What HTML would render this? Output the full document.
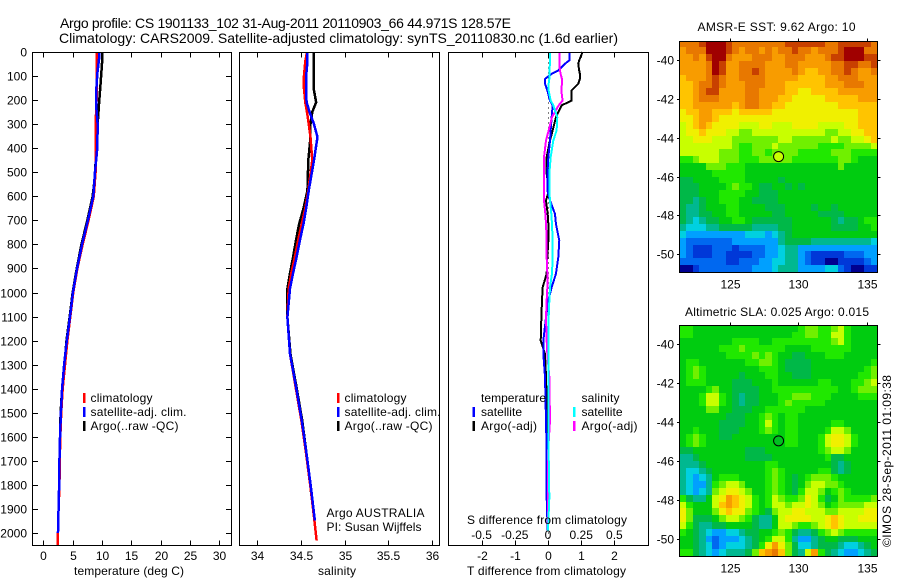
<!DOCTYPE html>
<html lang="en">
<head>
<meta charset="utf-8">
<title>Argo profile chart</title>
<style>
html,body{margin:0;padding:0;background:#fff;width:900px;height:580px;overflow:hidden}
svg{display:block}
text{font-family:"Liberation Sans",Arial,sans-serif;font-size:12px;fill:#000}
</style>
</head>
<body>
<svg id="chart" xmlns="http://www.w3.org/2000/svg" width="900" height="580" viewBox="0 0 900 580">
  <rect x="0" y="0" width="900" height="580" fill="#fff"/>
  <g id="panels"></g>
  <g id="maps"></g>
  <text x="60" y="28" style="font-size:14px" textLength="451" lengthAdjust="spacing">Argo profile: CS 1901133_102 31-Aug-2011 20110903_66 44.971S 128.57E</text>
  <text x="59" y="43" style="font-size:14px" textLength="559" lengthAdjust="spacing">Climatology: CARS2009. Satellite-adjusted climatology: synTS_20110830.nc (1.6d earlier)</text>

  <text x="74" y="575" textLength="110" lengthAdjust="spacing">temperature (deg C)</text>
  <text x="318" y="575" textLength="38" lengthAdjust="spacing">salinity</text>
  <text x="467" y="524" textLength="160" lengthAdjust="spacing">S difference from climatology</text>
  <text x="467" y="575" textLength="159" lengthAdjust="spacing">T difference from climatology</text>

  <g>
    <rect x="83" y="393" width="2.5" height="10" fill="#f00"/>
    <rect x="83" y="407" width="2.5" height="10" fill="#00f"/>
    <rect x="83" y="421" width="2.5" height="10" fill="#000"/>
    <text x="90.5" y="402" textLength="62" lengthAdjust="spacing">climatology</text>
    <text x="90.5" y="416" textLength="96" lengthAdjust="spacing">satellite-adj. clim.</text>
    <text x="90.5" y="430" textLength="88" lengthAdjust="spacing">Argo(..raw -QC)</text>
  </g>
  <g>
    <rect x="337" y="393" width="2.5" height="10" fill="#f00"/>
    <rect x="337" y="407" width="2.5" height="10" fill="#00f"/>
    <rect x="337" y="421" width="2.5" height="10" fill="#000"/>
    <text x="344.5" y="402" textLength="62" lengthAdjust="spacing">climatology</text>
    <text x="344.5" y="416" textLength="96" lengthAdjust="spacing">satellite-adj. clim.</text>
    <text x="344.5" y="430" textLength="88" lengthAdjust="spacing">Argo(..raw -QC)</text>
    <text x="326.5" y="517" textLength="98" lengthAdjust="spacing">Argo AUSTRALIA</text>
    <text x="326.5" y="531" textLength="95" lengthAdjust="spacing">PI: Susan Wijffels</text>
  </g>
  <g>
    <rect x="472.5" y="407" width="2.5" height="10" fill="#00f"/>
    <rect x="472.5" y="421" width="2.5" height="10" fill="#000"/>
    <rect x="573" y="407" width="2.5" height="10" fill="#0ff"/>
    <rect x="573" y="421" width="2.5" height="10" fill="#f0f"/>
    <text x="481" y="402" textLength="65" lengthAdjust="spacing">temperature</text>
    <text x="481" y="416" textLength="41" lengthAdjust="spacing">satellite</text>
    <text x="481" y="430" textLength="56" lengthAdjust="spacing">Argo(-adj)</text>
    <text x="581.5" y="402" textLength="38" lengthAdjust="spacing">salinity</text>
    <text x="581.5" y="416" textLength="41" lengthAdjust="spacing">satellite</text>
    <text x="581.5" y="430" textLength="56" lengthAdjust="spacing">Argo(-adj)</text>
  </g>

  <text x="697.5" y="31" textLength="158" lengthAdjust="spacing">AMSR-E SST: 9.62 Argo: 10</text>
  <text x="685" y="316" textLength="184" lengthAdjust="spacing">Altimetric SLA: 0.025 Argo: 0.015</text>
  <text x="891" y="547" transform="rotate(-90 891 547)" textLength="172" lengthAdjust="spacing">©IMOS 28-Sep-2011 01:09:38</text>
</svg>
<script>
// ---- tick labels ----
const depthTicks = [0,100,200,300,400,500,600,700,800,900,1000,1100,1200,1300,1400,1500,1600,1700,1800,1900,2000];
const tempTicks = [0,5,10,15,20,25,30];
const salTicks = [34,34.5,35,35.5,36];
const diffTTicks = [-2,-1,0,1,2];
const diffSTicks = [-0.5,-0.25,0,0.25,0.5];
const lonTicks = [125,130,135];
const latTicks = [-40,-42,-44,-46,-48,-50];

// ---- temperature profile (deg C) ----
const tempDepths = [0,30,90,150,215,300,400,500,600,700,800,900,1000,1100,1200,1300,1400,1500,1600,1700,1800,1900,2000,2055];
const tempClim = [9.09,9.09,9.09,9.15,9.05,8.92,8.92,8.9,8.6,7.7,6.7,5.8,5.1,4.6,4.1,3.7,3.3,3.05,2.9,2.8,2.75,2.6,2.5,2.5];
const tempSat = [9.49,9.49,9.2,9.05,8.98,9.26,9.2,8.8,8.52,7.6,6.6,5.75,5.05,4.55,4.0,3.55,3.2,3.0,2.85,2.75,2.7,2.6,2.5];
const tempArgo = [10.05,10.05,9.88,9.7,9.49,9.26,8.92,8.88,8.41,7.5,6.5,5.7,5.0,4.5,3.95,3.6,3.2,2.95,2.85,2.8,2.75,2.6,2.5];

// ---- salinity profile ----
const salDepths = [0,40,100,150,209,250,300,354,450,576,650,714,780,853,920,984,1103,1255,1394,1532,1671,1810,1948,2031];
const salClim = [34.57,34.55,34.535,34.535,34.55,34.57,34.59,34.61,34.63,34.585,34.55,34.51,34.47,34.43,34.39,34.36,34.345,34.375,34.44,34.505,34.56,34.61,34.655,34.68];
const salSat = [34.575,34.575,34.56,34.56,34.565,34.60,34.65,34.69,34.65,34.59,34.56,34.53,34.49,34.45,34.41,34.375,34.345,34.375,34.445,34.51,34.565,34.615,34.66];
const salArgo = [34.65,34.65,34.645,34.645,34.675,34.63,34.61,34.61,34.585,34.575,34.53,34.48,34.445,34.41,34.375,34.345,34.345,34.38,34.45,34.515,34.565,34.61,34.655];

// ---- differences from climatology ----
const diffDepths = [0,35,49,77,91,112,132,160,202,222,271,326,368,437,507,576,617,673,715,784,853,922,978,1033,1103,1200,1255,1352,1532,1671,1852,1990];
const diffTArgo = [1.04,0.94,0.91,0.94,0.96,0.96,0.91,0.71,0.71,0.41,0.24,0.14,0.06,-0.04,-0.04,0.03,-0.06,-0.01,0.01,0.01,-0.02,-0.04,-0.16,-0.18,-0.20,-0.22,-0.09,-0.06,-0.02,-0.02,-0.01,-0.01];
const diffTSat = [0.64,0.64,0.51,0.31,0.11,-0.09,-0.09,-0.02,0.06,0.14,0.11,0.08,0.06,0.01,-0.02,-0.02,0.06,0.21,0.24,0.34,0.31,0.24,0.11,0.01,-0.06,-0.14,-0.14,-0.09,-0.06,-0.04,-0.04,-0.01];
const diffSArgo = [0.085,0.085,0.085,0.09,0.095,0.105,0.105,0.1,0.11,0.08,0.03,0.005,-0.015,-0.03,-0.03,-0.03,-0.03,-0.02,-0.015,-0.01,-0.01,-0.005,-0.005,-0.01,-0.015,-0.01,-0.005,0.01,0.015,0,0,0];
const diffSSat = [0.015,0.015,0.015,0.01,0.01,0.01,0.005,0.005,0.02,0.04,0.07,0.065,0.04,0.02,0.01,0.01,0.015,0.025,0.03,0.035,0.035,0.03,0.015,0.01,0.005,0.005,0.005,0.005,0.005,0.005,0.01,0];

// ---- map colour levels ----
const levelColors = ['#000090','#0038d8','#0068f0','#00a0ff','#00d0e0','#00b890','#00b848','#00cc10','#20e800','#70f000','#c8ff00','#f0f000','#ffc400','#f89c00','#e87800','#c84000','#a00000'];
const sstLevels = [
[14,14,14,15,16,16,16,15,14,14,14,14,14,14,14,14,15,15,15,15,15,15,14,14,15,15,15,15,15,14],
[13,14,14,14,16,16,16,15,14,13,14,14,13,14,13,14,14,15,14,14,13,14,14,14,15,16,16,16,14,14],
[13,13,14,13,15,16,16,14,13,13,13,14,14,14,13,13,14,14,14,13,13,13,14,15,15,16,16,16,15,15],
[13,13,13,13,14,16,15,13,13,14,14,14,14,13,13,13,14,14,13,13,13,13,13,14,14,15,15,14,14,15],
[13,13,13,13,14,16,15,13,13,14,14,15,14,13,13,13,13,14,13,12,12,13,13,14,14,15,14,13,13,14],
[12,13,13,13,14,15,14,13,13,14,14,14,14,13,13,13,13,13,12,12,12,12,13,13,14,14,14,13,13,13],
[12,12,13,14,14,15,14,13,13,13,14,14,14,13,13,13,12,12,12,12,12,12,13,13,13,14,14,14,13,13],
[12,12,13,14,15,15,13,13,13,13,14,14,13,13,13,13,12,12,11,11,12,12,12,12,13,13,13,13,13,13],
[12,12,13,14,14,14,13,13,13,13,14,14,13,13,13,12,12,11,11,11,11,11,12,12,12,12,12,13,13,13],
[12,12,13,13,13,13,13,13,12,13,14,14,13,13,12,12,11,11,11,11,11,11,11,11,12,12,12,12,12,12],
[11,12,12,13,13,12,12,12,11,12,12,12,12,12,11,11,11,11,11,11,11,11,11,11,11,11,11,12,12,12],
[11,11,12,13,13,12,11,11,11,11,11,11,11,11,11,11,11,11,11,11,11,11,11,11,11,11,11,12,12,12],
[10,11,12,13,12,11,11,11,11,10,10,10,11,11,10,10,10,11,11,11,11,10,10,10,10,11,11,12,12,12],
[10,11,11,12,11,11,11,10,10,9,9,10,10,10,10,10,10,10,10,10,10,10,9,9,10,10,11,11,12,12],
[10,10,11,11,11,10,10,10,9,9,9,9,9,9,9,10,10,9,9,9,9,9,9,10,9,9,10,10,11,12],
[10,10,10,10,10,10,10,10,9,8,8,9,9,9,10,9,9,9,9,9,9,8,8,8,8,9,9,9,9,10],
[10,10,10,10,10,10,9,9,9,8,8,9,9,8,9,9,9,9,8,8,8,8,8,9,9,9,8,8,8,8],
[8,8,9,10,10,10,9,9,9,8,8,8,9,9,9,9,9,8,8,8,8,8,8,8,9,9,8,7,7,7],
[7,7,7,7,9,9,9,8,8,8,7,7,7,7,7,7,7,7,7,7,7,7,7,7,9,7,7,7,7,7],
[7,7,7,7,7,8,8,8,8,8,7,7,7,7,7,7,7,7,7,7,7,7,7,7,7,7,7,7,7,7],
[6,6,7,7,7,7,8,8,8,8,7,7,7,7,7,6,7,7,7,7,7,7,7,7,7,7,7,7,7,7],
[6,6,6,7,7,7,7,8,9,8,8,7,6,6,7,7,6,7,6,7,7,7,7,7,7,7,7,7,7,7],
[6,6,6,7,7,7,8,8,8,8,7,7,6,6,6,7,7,7,7,7,7,7,7,7,7,7,7,7,7,7],
[6,6,5,6,7,7,8,8,8,7,7,6,6,6,6,7,7,7,7,7,7,7,7,7,7,7,7,7,7,7],
[6,5,5,6,7,7,7,8,8,7,7,7,7,6,6,6,7,7,7,7,6,7,7,6,7,7,7,7,7,7],
[6,5,5,6,6,7,7,8,8,7,7,7,7,7,6,6,7,7,7,7,7,6,6,6,6,7,7,7,7,7],
[6,5,4,5,6,6,7,7,8,8,7,6,6,6,6,6,6,7,7,7,7,7,7,6,5,6,6,7,8,8],
[5,4,4,4,5,5,6,6,6,6,6,5,5,5,5,6,6,7,7,7,7,7,7,6,6,6,6,7,7,8],
[4,3,3,3,3,3,3,3,3,3,4,4,4,3,4,5,6,7,7,7,7,7,7,7,7,7,7,7,7,7],
[3,2,2,2,2,2,2,2,3,3,3,3,3,3,3,5,6,6,6,6,5,5,5,5,5,5,5,5,5,4],
[3,2,1,1,1,2,2,2,1,2,2,2,2,3,3,4,5,5,3,3,3,3,3,3,3,3,3,3,3,3],
[3,2,1,1,1,2,2,1,1,1,1,2,2,3,3,4,5,5,3,2,1,1,1,1,1,2,2,2,3,3],
[2,2,2,2,2,2,2,1,1,2,2,2,3,3,4,4,5,5,3,2,1,1,0,0,1,1,1,1,2,3],
[0,0,1,2,2,2,2,2,2,2,2,3,3,3,4,5,5,5,3,3,3,3,4,4,2,1,0,0,1,1]
];
const slaLevels = [
[8,8,7,7,7,7,7,7,7,7,7,7,7,7,7,7,7,7,8,9,9,8,8,9,10,8,7,7,7,7],
[8,8,7,7,7,7,7,7,7,7,7,7,7,7,7,7,7,8,8,9,9,8,8,10,10,8,7,7,7,7],
[7,7,7,7,7,7,7,7,8,8,8,8,7,7,8,8,8,8,8,8,8,8,8,9,10,8,7,7,7,7],
[7,7,7,7,7,7,8,8,8,9,8,8,8,8,8,8,7,7,7,7,8,8,8,8,8,8,7,7,7,7],
[7,7,7,7,7,7,7,8,8,8,8,9,8,9,8,7,7,6,6,7,7,7,8,8,8,7,7,7,7,7],
[7,8,8,7,7,7,7,7,7,7,8,8,9,9,8,7,6,6,6,6,7,7,7,7,7,7,7,7,7,8],
[7,8,9,8,7,7,7,7,7,7,7,7,8,8,8,7,6,6,6,6,7,7,7,7,7,7,7,7,8,9],
[7,8,9,8,7,7,7,7,7,6,7,7,7,8,8,7,7,6,6,6,7,7,7,7,7,7,7,8,8,9],
[7,8,8,8,7,7,7,7,6,6,6,7,7,7,8,7,7,7,7,7,7,8,8,7,7,7,8,8,9,10],
[7,7,7,7,8,9,7,7,6,6,6,6,7,7,8,8,8,8,8,8,8,8,8,8,7,7,8,9,9,9],
[7,7,7,8,10,10,8,7,6,5,6,6,7,7,7,8,8,9,9,9,8,8,8,7,7,7,7,8,8,8],
[7,7,7,8,10,10,8,7,6,5,6,6,7,7,7,8,9,8,8,8,8,8,7,7,7,7,7,7,7,7],
[7,7,7,7,9,9,7,7,6,6,6,7,7,8,8,8,8,8,8,7,7,7,7,7,7,7,7,7,7,7],
[7,7,7,7,7,7,7,6,6,6,7,7,8,9,8,7,8,8,7,7,7,7,7,7,7,7,7,7,7,7],
[7,7,7,7,7,7,6,6,6,6,7,7,8,10,8,7,8,8,7,7,7,7,7,8,8,7,7,7,7,7],
[7,7,8,7,7,7,6,6,6,7,7,7,8,9,8,7,8,8,7,7,7,7,8,10,10,9,7,7,7,7],
[7,8,9,8,7,7,6,6,7,7,7,7,7,7,7,7,8,8,7,7,7,8,10,11,11,10,8,7,7,7],
[7,8,9,8,7,7,7,7,7,7,7,7,7,7,7,7,8,8,7,7,7,8,10,11,11,10,8,7,7,7],
[6,6,7,7,7,7,7,7,7,7,6,6,6,7,7,7,7,7,7,7,7,8,9,10,10,9,7,7,7,7],
[5,5,6,7,7,7,7,7,7,7,6,6,6,6,7,7,7,7,7,7,7,7,8,6,6,7,7,7,7,7],
[5,5,5,6,7,7,7,7,7,7,7,7,7,8,8,7,7,7,7,7,7,7,7,6,5,6,7,7,7,7],
[5,4,4,5,6,7,7,7,7,7,7,7,7,8,9,8,7,7,7,7,7,8,8,6,5,6,7,7,7,7],
[5,4,3,4,5,7,8,8,8,7,7,7,7,8,9,8,7,6,7,8,9,9,9,8,7,7,7,7,7,7],
[5,4,3,3,5,8,9,10,10,9,7,7,7,8,9,8,7,6,7,9,10,10,9,9,8,7,7,7,7,7],
[5,4,3,4,5,9,10,11,11,10,9,7,7,8,9,8,7,6,8,10,10,9,7,8,9,8,7,7,7,7],
[8,6,5,5,7,10,11,13,12,11,10,8,7,8,10,9,8,8,9,11,10,8,6,7,9,8,8,8,8,9],
[10,8,7,7,7,10,12,13,12,11,10,8,7,8,10,10,9,10,10,11,10,9,7,8,9,9,9,9,10,10],
[11,9,7,7,7,9,11,12,11,11,9,8,7,6,9,10,10,11,11,10,10,10,9,9,10,10,10,10,11,11],
[11,9,6,6,6,7,9,10,10,9,8,6,5,5,7,10,11,11,11,11,10,10,11,12,11,10,10,11,11,11],
[10,8,6,5,5,6,6,7,7,7,7,6,5,5,7,10,10,9,8,8,9,10,11,12,11,10,10,10,10,10],
[8,7,6,5,4,3,3,4,4,5,6,6,7,7,8,9,8,6,5,5,6,8,9,10,9,8,8,8,8,8],
[7,7,6,5,3,2,3,3,3,4,5,6,7,8,10,10,8,5,3,3,5,6,7,7,6,6,6,7,7,7],
[7,7,6,5,4,2,3,4,4,4,5,6,8,11,13,11,9,6,4,4,5,6,6,6,5,4,4,5,6,7],
[8,8,6,5,4,3,4,5,5,5,6,9,12,13,14,12,9,6,5,10,13,8,6,5,4,3,3,4,5,6]
];
const argoLon = [128.57];
const argoLat = [-44.97];

const NS = 'http://www.w3.org/2000/svg';
const panelsG = document.getElementById('panels');
const mapsG = document.getElementById('maps');

function mk(tag, parent, attrs) {
  const el = document.createElementNS(NS, tag);
  for (const k in attrs) el.setAttribute(k, attrs[k]);
  parent.appendChild(el);
  return el;
}

// ---- axis functions ----
const PANEL_TOP = 52.5, PANEL_BOTTOM = 545.5;
function yDepth(d) { return 52 + d * 0.2405; }
function xTemp(v) { return 43.3 + v * 5.87; }
function xSal(v) { return 257.3 + (v - 34) * 87.2; }
function xDiffT(v) { return 548 + v * 33.2; }
function xDiffS(v) { return 548 + v * 132.8; }
function xLon(v) { return 729.5 + (v - 125) * 13.75; }
function ySst(v) { return 60 + (-40 - v) * 19.43; }
function ySla(v) { return 344.3 + (-40 - v) * 19.43; }

function drawSeries(parent, depths, values, xFn, color, width, name) {
  let pts = '';
  for (let i = 0; i < values.length; i++) {
    pts += xFn(values[i]).toFixed(2) + ',' + yDepth(depths[i]).toFixed(2) + ' ';
  }
  const el = mk('polyline', parent, {points: pts, fill: 'none', stroke: color, 'stroke-width': width, 'shape-rendering': 'crispEdges', 'stroke-linejoin': 'miter'});
  
  
}

function drawFrame(parent, x0, x1, y0, y1, name) {
  const el = mk('rect', parent, {x: x0, y: y0, width: x1 - x0, height: y1 - y0, fill: 'none', stroke: '#000', 'stroke-width': 1, 'shape-rendering': 'crispEdges'});
  
  
}

function tick(parent, x1, y1, x2, y2, name) {
  const el = mk('line', parent, {x1: x1, y1: y1, x2: x2, y2: y2, stroke: '#000', 'stroke-width': 1, 'shape-rendering': 'crispEdges'});
  
  
}

function label(parent, x, y, anchor, str, name) {
  const el = mk('text', parent, {x: x, y: y, 'text-anchor': anchor});
  el.textContent = str;
  
  
}

// ---- panel 1: temperature ----
const p1 = mk('g', panelsG, {});


drawSeries(p1, tempDepths, tempArgo, xTemp, '#000', 2.5, 'temperature-argo-line');
drawSeries(p1, tempDepths, tempClim, xTemp, '#f00', 2.5, 'temperature-climatology-line');
drawSeries(p1, tempDepths, tempSat, xTemp, '#00f', 2.5, 'temperature-satellite-line');
drawFrame(p1, 32.5, 231.5, PANEL_TOP, PANEL_BOTTOM, 'temperature-plot-frame');
depthTicks.forEach(function (d) {
  const y = Math.round(yDepth(d)) + 0.5;
  tick(p1, 32.5, y, 38, y, 'depth-tick-left');
  tick(p1, 226, y, 231.5, y, 'depth-tick-right');
  label(p1, 27, y + 4, 'end', String(d), 'depth-tick-label');
});
tempTicks.forEach(function (v) {
  const x = Math.round(xTemp(v)) + 0.5;
  tick(p1, x, PANEL_TOP, x, PANEL_TOP + 5, 'temperature-tick-top');
  tick(p1, x, PANEL_BOTTOM - 5, x, PANEL_BOTTOM, 'temperature-tick-bottom');
  label(p1, x, 560, 'middle', String(v), 'temperature-tick-label');
});

// ---- panel 2: salinity ----
const p2 = mk('g', panelsG, {});


drawSeries(p2, salDepths, salArgo, xSal, '#000', 2.5, 'salinity-argo-line');
drawSeries(p2, salDepths, salClim, xSal, '#f00', 2.5, 'salinity-climatology-line');
drawSeries(p2, salDepths, salSat, xSal, '#00f', 2.5, 'salinity-satellite-line');
drawFrame(p2, 239.5, 439.5, PANEL_TOP, PANEL_BOTTOM, 'salinity-plot-frame');
salTicks.forEach(function (v) {
  const x = Math.round(xSal(v)) + 0.5;
  tick(p2, x, PANEL_TOP, x, PANEL_TOP + 5, 'salinity-tick-top');
  tick(p2, x, PANEL_BOTTOM - 5, x, PANEL_BOTTOM, 'salinity-tick-bottom');
  label(p2, x, 560, 'middle', String(v), 'salinity-tick-label');
});

// ---- panel 3: differences ----
const p3 = mk('g', panelsG, {});


const zeroLine = mk('line', p3, {x1: xDiffT(0) + 0.5, y1: PANEL_TOP, x2: xDiffT(0) + 0.5, y2: PANEL_BOTTOM, stroke: '#000', 'stroke-width': 1, 'stroke-dasharray': '1 4', 'shape-rendering': 'crispEdges'});


drawSeries(p3, diffDepths, diffTArgo, xDiffT, '#000', 2, 't-argo-difference-line');
drawSeries(p3, diffDepths, diffTSat, xDiffT, '#00f', 2, 't-satellite-difference-line');
drawSeries(p3, diffDepths, diffSArgo, xDiffS, '#f0f', 2, 's-argo-difference-line');
drawSeries(p3, diffDepths, diffSSat, xDiffS, '#0ff', 2, 's-satellite-difference-line');
drawFrame(p3, 448.5, 648.5, PANEL_TOP, PANEL_BOTTOM, 'difference-plot-frame');
diffTTicks.forEach(function (v) {
  const x = Math.round(xDiffT(v)) + 0.5;
  tick(p3, x, PANEL_TOP, x, PANEL_TOP + 5, 't-difference-tick-top');
  tick(p3, x, PANEL_BOTTOM - 5, x, PANEL_BOTTOM, 't-difference-tick-bottom');
  label(p3, x, 560, 'middle', String(v), 't-difference-tick-label');
});
diffSTicks.forEach(function (v) {
  label(p3, xDiffS(v), 539, 'middle', String(v), 's-difference-tick-label');
});

// ---- maps ----
const GRID_LON0 = 121.36, GRID_DLON = 14.4 / 30;
function drawMap(levels, yFn, latTop, dLat, frameTop, frameBottom, markerFill, prefix) {
  const g = mk('g', mapsG, {});
  
  
  levels.forEach(function (row, r) {
    row.forEach(function (lev, c) {
      const x0 = Math.round(xLon(GRID_LON0 + c * GRID_DLON));
      const x1 = Math.round(xLon(GRID_LON0 + (c + 1) * GRID_DLON));
      const y0 = Math.round(yFn(latTop - r * dLat));
      const y1 = Math.round(yFn(latTop - (r + 1) * dLat));
      const cell = mk('rect', g, {x: x0, y: y0, width: x1 - x0, height: y1 - y0, fill: levelColors[lev], 'shape-rendering': 'crispEdges'});
      
      
    });
  });
  drawFrame(g, 679.5, 877.5, frameTop, frameBottom, prefix + '-map-frame');
  lonTicks.forEach(function (v) {
    const x = Math.round(xLon(v)) + 0.5;
    tick(g, x, frameTop - 3, x, frameTop, prefix + '-lon-tick');
    label(g, x, frameBottom + 16, 'middle', String(v), prefix + '-lon-tick-label');
  });
  latTicks.forEach(function (v) {
    const y = Math.round(yFn(v)) + 0.5;
    tick(g, 677, y, 679.5, y, prefix + '-lat-tick-left');
    tick(g, 877.5, y, 880.5, y, prefix + '-lat-tick-right');
    label(g, 674, y + 4, 'end', String(v), prefix + '-lat-tick-label');
  });
  const marker = mk('circle', g, {cx: xLon(argoLon[0]), cy: yFn(argoLat[0]), r: 5, fill: markerFill, stroke: '#000', 'stroke-width': 1});
  
  
}
const GRID_LAT_TOP = -39.0, GRID_DLAT = 11.9 / 34;
drawMap(sstLevels, ySst, GRID_LAT_TOP, GRID_DLAT, 41.5, 272.5, '#c8ff00', 'sst');
drawMap(slaLevels, ySla, GRID_LAT_TOP, GRID_DLAT, 325.5, 556.5, '#00c020', 'sla');
</script>
</body>
</html>
